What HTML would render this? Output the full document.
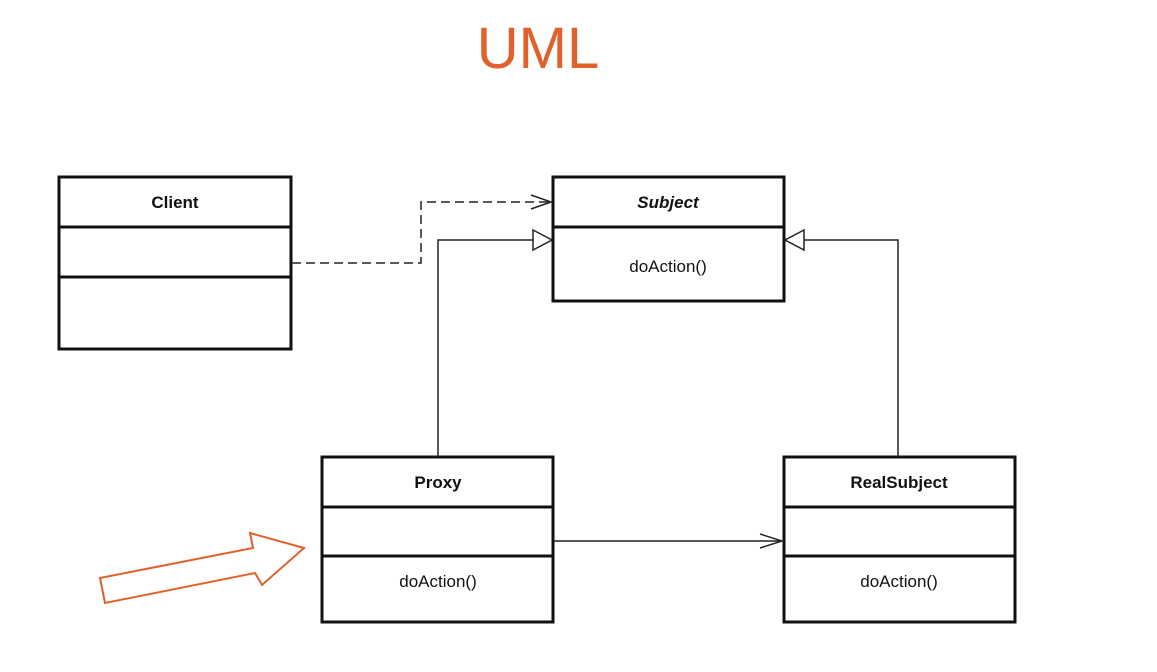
<!DOCTYPE html>
<html><head><style>
html,body{margin:0;padding:0;background:#fff;}
</style></head><body>
<svg width="1157" height="667" viewBox="0 0 1157 667" xmlns="http://www.w3.org/2000/svg" font-family="Liberation Sans, Arial, sans-serif">
<text x="538" y="68" font-size="58" fill="#e0622a" text-anchor="middle">UML</text>
<g fill="none" stroke="#111" stroke-width="3">
<rect x="59" y="177" width="232" height="172"/>
<line x1="59" y1="227" x2="291" y2="227"/>
<line x1="59" y1="277" x2="291" y2="277"/>
<rect x="553" y="177" width="231" height="124"/>
<line x1="553" y1="227" x2="784" y2="227"/>
<rect x="322" y="457" width="231" height="165"/>
<line x1="322" y1="507" x2="553" y2="507"/>
<line x1="322" y1="556" x2="553" y2="556"/>
<rect x="784" y="457" width="231" height="165"/>
<line x1="784" y1="507" x2="1015" y2="507"/>
<line x1="784" y1="556" x2="1015" y2="556"/>
</g>
<g fill="none" stroke="#222" stroke-width="1.5">
<polyline points="292,263 421,263 421,202 551,202" stroke-dasharray="9,5"/>
<polyline points="531,195 551,202 531,209"/>
<polyline points="438,457 438,240 533,240"/>
<polygon points="533,230 552,240 533,250" fill="#fff"/>
<polyline points="898,457 898,240 804,240"/>
<polygon points="804,230 785,240 804,250" fill="#fff"/>
<line x1="554" y1="541" x2="782" y2="541"/>
<polyline points="760,534 782,541 760,548"/>
</g>
<polygon points="100,578 253,548 250,533 304,548 262,585 255,573 105,603" fill="#fff" stroke="#e0622a" stroke-width="2"/>
<g font-size="17" text-anchor="middle" fill="#111">
<text x="175" y="208" font-weight="bold">Client</text>
<text x="668" y="208" font-weight="bold" font-style="italic">Subject</text>
<text x="668" y="272">doAction()</text>
<text x="438" y="488" font-weight="bold">Proxy</text>
<text x="438" y="587">doAction()</text>
<text x="899" y="488" font-weight="bold">RealSubject</text>
<text x="899" y="587">doAction()</text>
</g>
</svg>
</body></html>
